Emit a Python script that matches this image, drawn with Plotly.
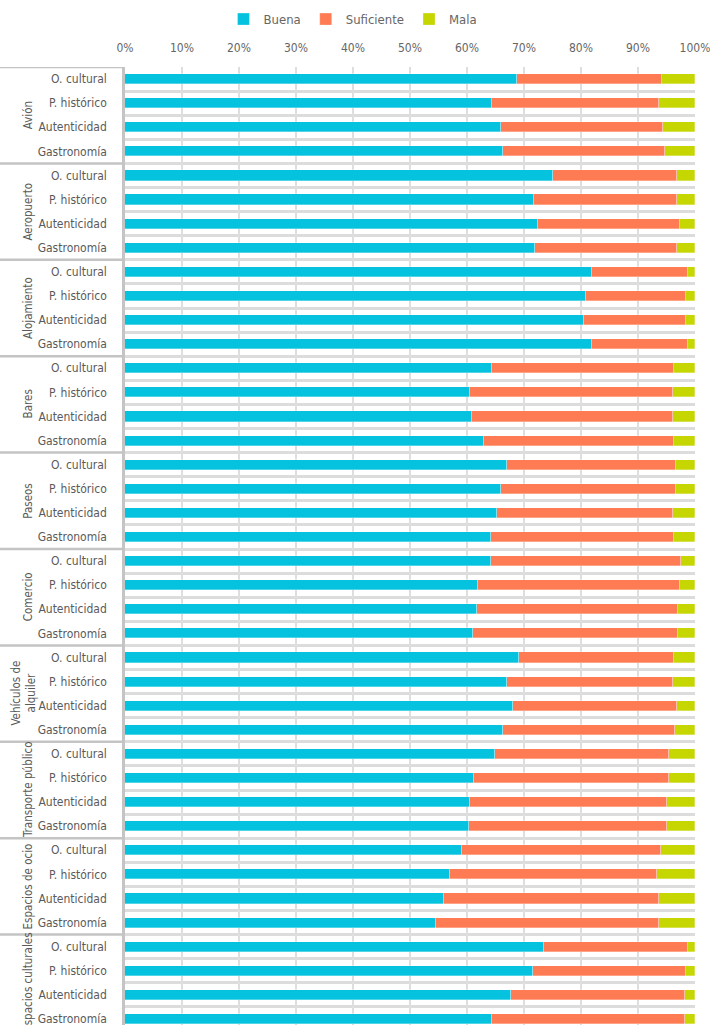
import plotly.graph_objects as go

groups = ["Avión", "Aeropuerto", "Alojamiento", "Bares", "Paseos", "Comercio",
          "Vehículos de<br>alquiler", "Transporte público", "Espacios de ocio",
          "Espacios culturales"]
items = ["O. cultural", "P. histórico", "Autenticidad", "Gastronomía"]

buena = [68.8, 64.4, 66.0, 66.3,
         75.1, 71.7, 72.5, 71.9,
         81.9, 80.9, 80.5, 82.0,
         64.4, 60.6, 60.8, 62.9,
         67.0, 65.9, 65.2, 64.2,
         64.2, 62.0, 61.7, 61.0,
         69.1, 67.0, 68.0, 66.3,
         64.9, 61.3, 60.6, 60.3,
         59.2, 57.1, 56.0, 54.6,
         73.5, 71.5, 67.7, 64.3]
suficiente = [25.4, 29.3, 28.3, 28.4,
              21.7, 25.2, 24.8, 24.9,
              16.9, 17.5, 18.0, 16.7,
              32.0, 35.5, 35.4, 33.5,
              29.7, 30.8, 31.0, 32.2,
              33.3, 35.4, 35.4, 36.1,
              27.3, 29.1, 28.8, 30.2,
              30.5, 34.2, 34.4, 34.7,
              34.8, 36.3, 37.7, 39.0,
              25.2, 27.0, 30.5, 34.0]
mala = [5.8, 6.3, 5.7, 5.3,
        3.2, 3.1, 2.7, 3.2,
        1.2, 1.6, 1.5, 1.3,
        3.6, 3.9, 3.8, 3.6,
        3.3, 3.3, 3.8, 3.6,
        2.5, 2.6, 2.9, 2.9,
        3.6, 3.9, 3.2, 3.5,
        4.6, 4.5, 5.0, 5.0,
        6.0, 6.6, 6.3, 6.4,
        1.3, 1.5, 1.8, 1.7]

x_ticks = [0, 10, 20, 30, 40, 50, 60, 70, 80, 90, 100]
x_ticktext = ["0%", "10%", "20%", "30%", "40%", "50%", "60%", "70%", "80%", "90%", "100%"]

series_names = ["Buena", "Suficiente", "Mala"]
colors = ["#05c3df", "#ff7b53", "#c5d600"]

n_items = len(items)
row_labels = [it for _ in groups for it in items]
ypos = list(range(len(row_labels)))

FONT = "DejaVu Sans Condensed, Liberation Sans Narrow, sans-serif"
TXT = "#5a5a5a"

fig = go.Figure()
for name, vals, col in zip(series_names, [buena, suficiente, mala], colors):
    fig.add_trace(go.Bar(
        x=vals, y=ypos, orientation="h", name=name,
        marker=dict(color=col, line=dict(color="rgba(255,255,255,0.6)", width=0.5)),
        width=0.42,
    ))

W_LEFT, W_RIGHT, PLOT_W = 125, 15, 570
fig.update_layout(
    width=710, height=1025,
    barmode="stack", bargap=0,
    plot_bgcolor="white", paper_bgcolor="white",
    margin=dict(l=W_LEFT, r=W_RIGHT, t=67, b=0, autoexpand=False),
    font=dict(family=FONT, color=TXT, size=12),
    showlegend=True,
    legend=dict(orientation="h", x=0.40, xanchor="center", y=1.05, yanchor="middle",
                font=dict(size=13, color="#666666"), itemwidth=30,
                traceorder="normal"),
    xaxis=dict(range=[0, 100], side="top", tickvals=x_ticks, ticktext=x_ticktext,
               showgrid=True, gridcolor="#dedede", gridwidth=1.5, zeroline=False,
               ticks="", ticklabelstandoff=12, tickfont=dict(size=12, color="#666666"),
               ticklabeloverflow="allow",
               showline=False, fixedrange=True, automargin=False),
    yaxis=dict(range=[39.25, -0.5], tickmode="array", tickvals=ypos, ticktext=row_labels,
               showgrid=False, zeroline=False, ticks="", ticklabelstandoff=13,
               tickfont=dict(size=12, color=TXT), ticklabeloverflow="allow",
               showline=True, linecolor="#c4c4c4", linewidth=2.5,
               minor=dict(tickmode="linear", tick0=0.5, dtick=1, showgrid=True,
                          gridcolor="#dcdcdc", gridwidth=3, ticks=""),
               fixedrange=True, automargin=False),
)

# group dividers and group labels in the left margin
x_left_paper = -W_LEFT / PLOT_W
for g, gname in enumerate(groups):
    top = g * n_items - 0.5
    fig.add_shape(type="line", xref="paper", yref="y", x0=x_left_paper, x1=0,
                  y0=top, y1=top, line=dict(color="#c4c4c4", width=2.5), layer="above")
    xc = 24 if "<br>" in gname else 28
    fig.add_annotation(xref="paper", yref="y", x=(xc - W_LEFT) / PLOT_W,
                       y=g * n_items + (n_items - 1) / 2, text=gname, textangle=-90,
                       showarrow=False, font=dict(size=11.5, color=TXT),
                       xanchor="center", yanchor="middle", align="center")

fig.write_html("out.html", config={"displayModeBar": False},
               post_script="document.body.style.margin='0';document.body.style.overflow='hidden';")
